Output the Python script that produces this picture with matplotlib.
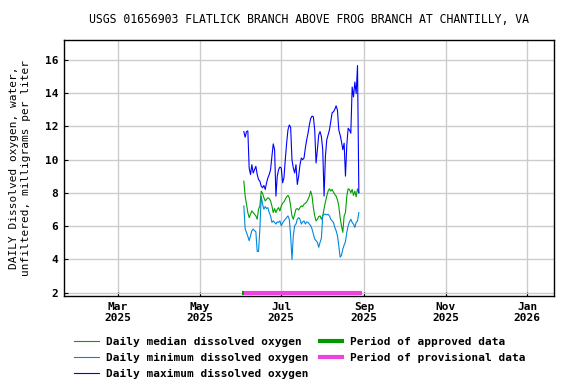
import matplotlib
matplotlib.use("Agg")
import matplotlib.pyplot as plt
import matplotlib.dates as mdates
import numpy as np
import pandas as pd

# daily values, 2025-06-03 .. 2025-08-28
START = "2025-06-03"
DO_MAX = [11.69, 11.35, 11.69, 11.73, 9.50, 9.11, 9.70, 9.20, 9.40, 9.60,
          9.11, 8.81, 8.71, 8.41, 8.31, 8.45, 8.21, 8.61, 8.91, 9.11,
          9.40, 10.20, 10.95, 10.60, 7.81, 9.01, 9.40, 9.56, 9.50, 8.61,
          8.91, 10.00, 10.99, 11.79, 12.09, 11.95, 10.00, 9.50, 9.20, 9.70,
          8.51, 9.01, 9.70, 10.10, 10.00, 10.10, 10.70, 11.19, 11.59, 12.09,
          12.48, 12.62, 12.58, 11.79, 9.80, 10.60, 11.49, 11.69, 11.39, 10.60,
          7.81, 10.20, 11.19, 11.49, 11.79, 12.28, 12.82, 12.88, 13.02, 13.24,
          12.98, 11.79, 11.49, 11.09, 10.60, 10.99, 9.01, 10.89, 11.89, 11.79,
          11.59, 14.37, 13.77, 14.67, 13.97, 15.66, 8.01]
DO_MED = [8.71, 7.81, 7.32, 6.82, 6.52, 6.72, 6.92, 6.82, 6.72, 6.62,
          6.42, 7.02, 7.22, 8.11, 7.97, 7.71, 7.52, 7.62, 7.71, 7.66,
          7.52, 7.22, 6.82, 7.06, 6.82, 7.02, 7.12, 6.92, 7.22, 7.38,
          7.46, 7.62, 7.77, 7.85, 7.71, 7.22, 6.62, 6.42, 6.72, 7.02,
          7.06, 6.98, 7.12, 7.22, 7.18, 7.32, 7.38, 7.46, 7.62, 7.81,
          8.11, 7.81, 7.12, 6.62, 6.32, 6.42, 6.58, 6.62, 6.42, 6.62,
          7.06, 7.46, 7.81, 8.11, 8.25, 8.11, 8.21, 8.05, 7.91, 7.81,
          7.58, 7.22, 6.52, 6.03, 5.63, 6.62, 6.82, 7.81, 8.25, 8.21,
          8.01, 8.21, 7.85, 8.11, 7.77, 8.25, 8.01]
DO_MIN = [7.22, 5.83, 5.63, 5.39, 5.13, 5.43, 5.73, 5.83, 5.73, 5.67,
          4.48, 4.48, 5.83, 7.81, 7.32, 7.02, 7.18, 7.06, 7.12, 6.82,
          6.62, 6.23, 6.32, 6.23, 6.13, 6.26, 6.23, 6.32, 6.03, 6.19,
          6.32, 6.42, 6.52, 6.62, 6.42, 5.43, 4.00, 5.43, 6.03, 6.13,
          6.42, 6.52, 6.42, 6.13, 6.26, 6.32, 6.13, 6.26, 6.23, 6.13,
          6.03, 5.83, 5.53, 5.23, 5.13, 5.03, 4.73, 5.03, 5.27, 6.62,
          6.72, 6.72, 6.68, 6.72, 6.62, 6.42, 6.32, 6.23, 5.93, 5.73,
          5.43, 4.83, 4.14, 4.24, 4.63, 4.87, 5.07, 5.63, 6.03, 6.26,
          6.42, 6.23, 6.13, 5.93, 6.23, 6.32, 6.82]

APPROVED = ("2025-06-02", "2025-06-03")
PROVISIONAL = ("2025-06-03", "2025-08-30")
XTICKS = ["2025-03-01", "2025-05-01", "2025-07-01", "2025-09-01", "2025-11-01", "2026-01-01"]
YTICKS = [2, 4, 6, 8, 10, 12, 14, 16]

days = pd.date_range(START, periods=len(DO_MAX), freq="D")

plt.rcParams["font.family"] = "DejaVu Sans Mono"
plt.rcParams["font.weight"] = "bold"
plt.rcParams["font.size"] = 8

fig = plt.figure(figsize=(5.76, 3.84), dpi=100)
ax = fig.add_axes([0.111, 0.229, 0.851, 0.667])

ax.plot(days, DO_MED, color="#00a000", lw=0.8, label="Daily median dissolved oxygen")
ax.plot(days, DO_MIN, color="#0088dd", lw=0.8, label="Daily minimum dissolved oxygen")
ax.plot(days, DO_MAX, color="#0000ff", lw=0.8, label="Daily maximum dissolved oxygen")
ax.plot(pd.to_datetime(list(APPROVED)), [2, 2], color="#009900", lw=3, solid_capstyle="butt",
        label="Period of approved data")
ax.plot(pd.to_datetime(list(PROVISIONAL)), [2, 2], color="#ee44dd", lw=3, solid_capstyle="butt",
        label="Period of provisional data")

ax.set_xlim(pd.Timestamp("2025-01-19 12:00"), pd.Timestamp("2026-01-21"))
ax.set_ylim(1.8, 17.2)
ax.set_yticks(YTICKS)
ax.set_xticks(pd.to_datetime(XTICKS))
ax.xaxis.set_major_formatter(mdates.DateFormatter("%b\n%Y"))
ax.grid(color="#cccccc", lw=1)
ax.set_axisbelow(True)
ax.tick_params(direction="in", length=3, width=0.8, pad=4)
for s in ax.spines.values():
    s.set_linewidth(1)

ax.set_ylabel("DAILY Dissolved oxygen, water,\nunfiltered, milligrams per liter", labelpad=10)
ax.set_title("USGS 01656903 FLATLICK BRANCH ABOVE FROG BRANCH AT CHANTILLY, VA",
             pad=12, fontsize=8.3)

fig.legend(loc="upper left", bbox_to_anchor=(0.118, 0.137), ncol=2, frameon=False,
           handlelength=2.3, handletextpad=0.6, columnspacing=0.9, labelspacing=0.55,
           borderpad=0, fontsize=8)

fig.savefig("out.png", dpi=100)
